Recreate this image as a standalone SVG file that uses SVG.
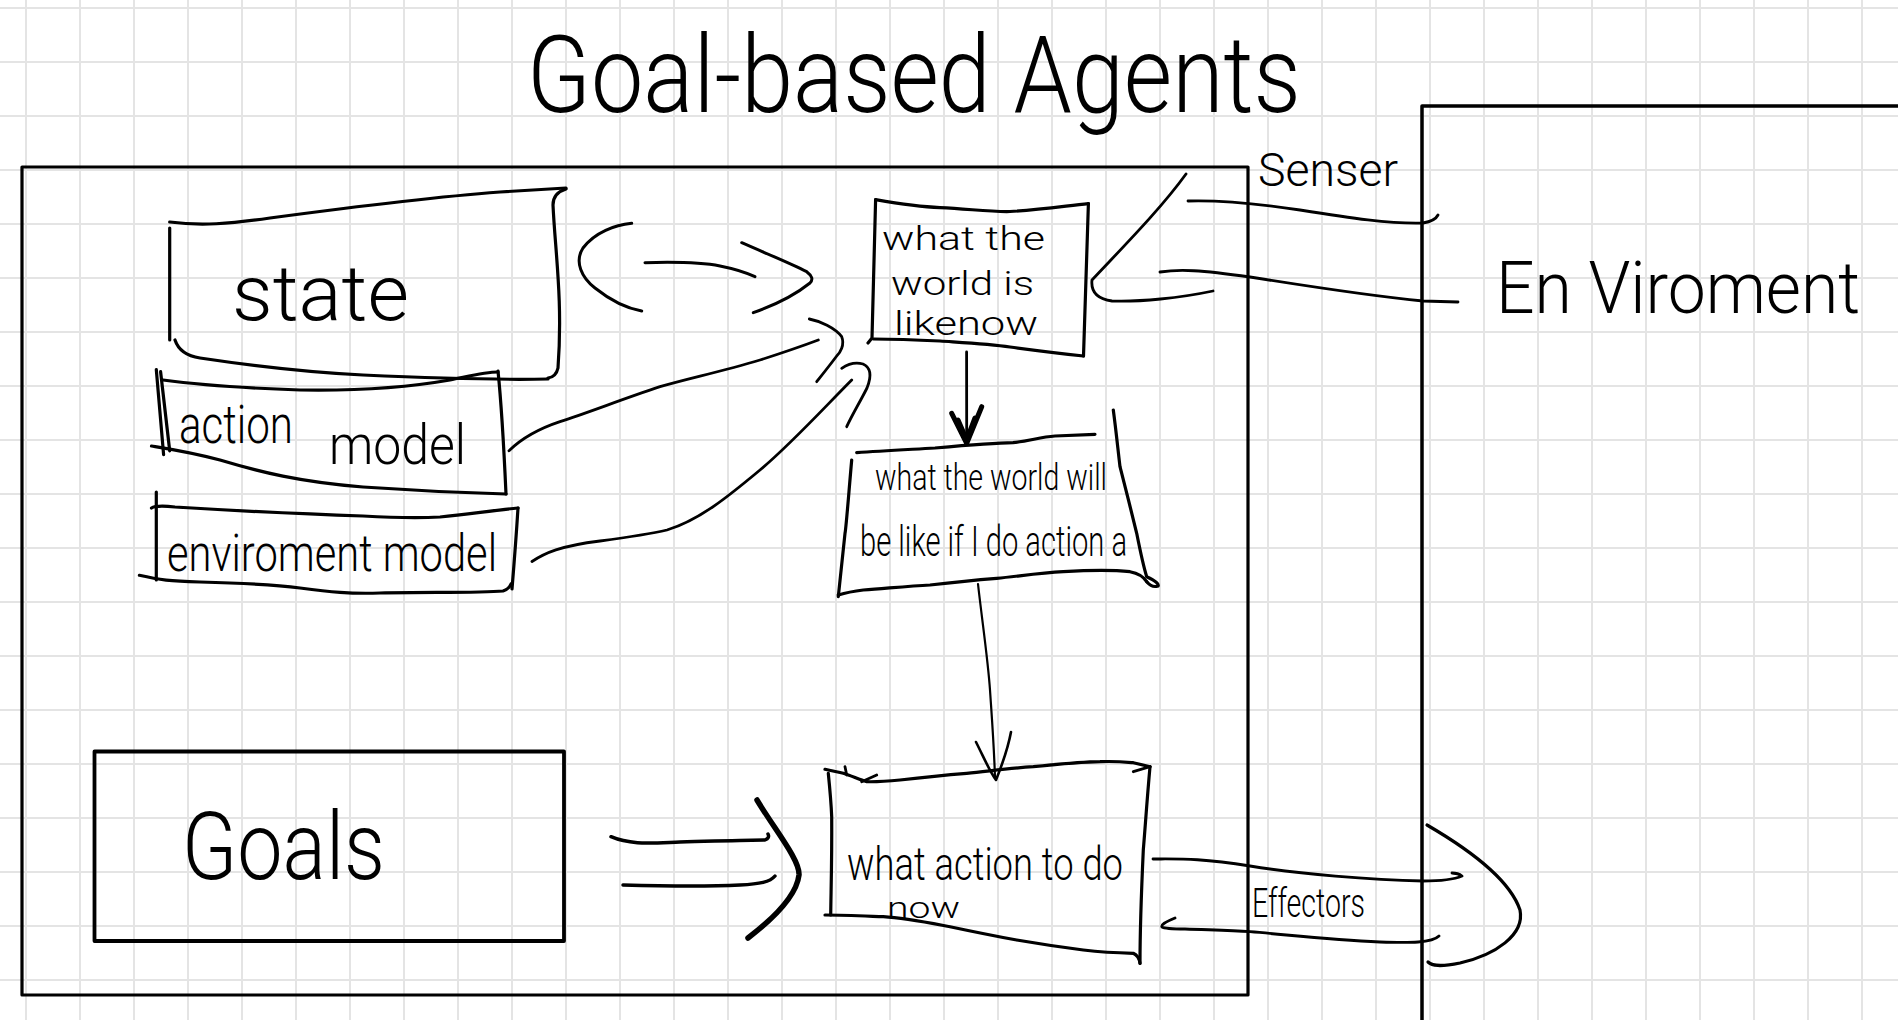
<svg xmlns="http://www.w3.org/2000/svg" width="1898" height="1020" viewBox="0 0 1898 1020">
<style>
.ink{fill:none;stroke:#000;stroke-linecap:round;stroke-linejoin:round}
.box{stroke-width:3.2}
.ln{stroke-width:2.8}
.hand{font-family:Roboto,Lato,"Liberation Sans",sans-serif;font-weight:300;fill:#000}
</style>
<defs>
<pattern id="grid" patternUnits="userSpaceOnUse" x="25" y="7" width="54" height="54">
<path d="M1 0V54M0 1H54" stroke="#e4e4e4" stroke-width="2" fill="none"/>
</pattern>
</defs>
<rect width="1898" height="1020" fill="#fff"/>
<rect width="1898" height="1020" fill="url(#grid)"/>

<g id="title">
<text class="hand" x="527" y="112" font-size="108" textLength="774" lengthAdjust="spacingAndGlyphs">Goal-based Agents</text>
</g>

<g id="agent">
<rect class="ink box" x="22" y="167" width="1226" height="828"/>
</g>

<g id="environment">
<path class="ink" stroke-width="3.5" d="M1422,1022V106H1900"/>
<text class="hand" x="1496" y="313" font-size="72" textLength="364" lengthAdjust="spacingAndGlyphs">En Viroment</text>
</g>

<g id="state">
<path class="ink box" d="M169.7,222 C200,226 230,224 270,218 C330,210 420,198 500,192 L566,188"/>
<path class="ink box" d="M566,189 Q553,193 553,205 C555,250 563,300 558,368 Q556,377 548,378"/>
<path class="ink box" d="M175,340 Q180,355 200,358 C240,364 300,372 363,375 C430,378 500,380 548,379"/>
<path class="ink box" d="M169.7,228 L169.7,340"/>
<text class="hand" x="232" y="320" font-size="78" textLength="177" lengthAdjust="spacingAndGlyphs">state</text>
</g>

<g id="action-model">
<path class="ink box" d="M156.3,369.7 L163.6,454.7 M160.6,371.7 L169.7,450.8"/>
<path class="ink box" d="M163,380 C200,385 240,388 300,390 C360,391 410,387 450,380 C470,376 485,372 498,372"/>
<path class="ink box" d="M498,371 C501,400 504,450 506,494"/>
<path class="ink box" d="M151.5,446 C170,449 190,452 220,460 C260,472 300,482 363,487 C420,491 470,493 506,494"/>
<text class="hand" x="179" y="443" font-size="54" textLength="114" lengthAdjust="spacingAndGlyphs">action</text>
<text class="hand" x="329" y="464" font-size="56" textLength="137" lengthAdjust="spacingAndGlyphs">model</text>
</g>

<g id="environment-model">
<path class="ink box" d="M151.5,508 Q156,505 175,507 C240,511 300,514 363,516 C400,518 420,518 440,517 C470,514 495,510 518,508"/>
<path class="ink box" d="M518,508 C516,540 514,565 512,589"/>
<path class="ink box" d="M139.4,575.3 C160,580 170,581 200,582 C240,583 270,584 300,588 C330,592 350,594 380,593 C430,592 480,593 503,591 Q509,589 511,584"/>
<path class="ink box" d="M156.3,492 L156.3,580"/>
<text class="hand" x="167" y="571" font-size="52" textLength="330" lengthAdjust="spacingAndGlyphs">enviroment model</text>
</g>

<g id="world-now">
<path class="ink box" d="M875.6,199.7 C900,204 920,207 940,207.6 C970,209 990,212 1010,211.5 C1040,210 1065,206 1088.4,203.6"/>
<path class="ink box" d="M875.6,199.7 L872,338 L868,343"/>
<path class="ink box" d="M873.5,339 C900,339 920,340 940,341 C970,343 990,344 1010,347 C1040,351 1065,354 1083.5,356"/>
<path class="ink box" d="M1088.4,203.6 L1083.5,356"/>
<text class="hand" x="882" y="250" font-size="34" textLength="163" lengthAdjust="spacingAndGlyphs">what the</text>
<text class="hand" x="891" y="295" font-size="34" textLength="143" lengthAdjust="spacingAndGlyphs">world is</text>
<text class="hand" x="894" y="335" font-size="34" textLength="144" lengthAdjust="spacingAndGlyphs">likenow</text>
</g>

<g id="world-future">
<path class="ink box" d="M856.7,452.7 C880,451 900,450 935,448 C970,445 995,443 1013,442.7 C1030,441 1040,437 1055,436 L1095,434.3"/>
<path class="ink box" d="M851.7,460 C849,490 846,530 845,533.3 C842,560 840,580 838.3,596.7"/>
<path class="ink box" d="M1113.3,410 C1116,430 1118,450 1120,466.7 C1126,490 1131,510 1136.7,533.3 C1140,550 1143,565 1146.7,576.7 Q1160,583 1158,586 Q1152,588 1147,582"/>
<path class="ink box" d="M838.3,595 C848,592 855,591 863.3,590 C890,588 910,586 930,585 C955,582 975,580 996.7,578.3 C1020,576 1040,573 1063.3,571.7 C1090,570 1115,570 1130,571.7 Q1142,574 1146.7,581.7"/>
<text class="hand" x="875" y="490" font-size="36" textLength="232" lengthAdjust="spacingAndGlyphs">what the world will</text>
<text class="hand" x="860" y="556" font-size="42" textLength="267" lengthAdjust="spacingAndGlyphs">be like if I do action a</text>
</g>

<g id="goals">
<rect class="ink" stroke-width="3.8" x="94.5" y="751.5" width="469.5" height="189.5"/>
<text class="hand" x="182" y="879" font-size="95" textLength="203" lengthAdjust="spacingAndGlyphs">Goals</text>
</g>

<g id="action">
<path class="ink box" d="M825,769.3 C832,771 838,772 843.3,773.3 C852,776 860,780 866.7,781.7 C880,782 890,781 900,780 C925,777 945,775 966.7,773.3 C990,771 1010,768 1033.3,766.7 C1060,764 1080,762 1100,761.7 C1115,761 1125,762 1133.3,762.7 L1150,766.7"/>
<path class="ink ln" d="M845,766.7 L846.7,775 M876.7,775 L861.7,781.7 M1133.3,771.7 L1150,766.7"/>
<path class="ink box" d="M828.3,773.3 C830,790 831,800 831.7,816.7 C832,860 831,890 830.7,915"/>
<path class="ink box" d="M825,915 C845,915 865,916 883.3,916.7 C905,918 930,923 950,926.7 C975,932 995,936 1016.7,940 C1040,944 1060,947 1083.3,950 C1100,952 1120,953 1133.3,953.3 Q1139,956 1140,963.3"/>
<path class="ink box" d="M1150,766.7 C1147,800 1145,830 1143.3,850 C1141,900 1140,940 1140,963.3"/>
<text class="hand" x="847" y="880" font-size="46" textLength="276" lengthAdjust="spacingAndGlyphs">what action to do</text>
<text class="hand" x="887" y="918" font-size="30" textLength="73" lengthAdjust="spacingAndGlyphs">now</text>
</g>

<g id="connectors">
<path class="ink" stroke-width="3" d="M631.7,223.3 C615,225 595,232 583,248 C574,262 582,278 595,288 C610,300 625,308 641.7,311"/>
<path class="ink" stroke-width="3" d="M645,262.7 C670,262 700,262 720,266 C735,269 745,272 755,276.7"/>
<path class="ink" stroke-width="3" d="M741.7,242.7 C765,253 790,263 806.7,271.7 Q815,278 810,283 C795,295 775,305 753.3,312.7"/>
<path class="ink ln" d="M509,450.8 C520,440 535,430 560,421.7 C590,412 620,400 660,386.7 C690,378 720,372 760,360 C785,352 805,345 818.3,340"/>
<path class="ink ln" d="M809.3,319 C820,321 835,328 841.7,336.7 C845,345 840,353 836.7,356 C830,365 822,375 816.7,381.7"/>
<path class="ink ln" d="M532,561.5 C545,553 560,546 600,541 C630,537 650,534 667,530 C700,520 730,495 760,470 C790,445 820,412 851.7,380"/>
<path class="ink ln" d="M841.7,368.3 C848,364 856,362 863,364 C872,368 871,378 867,388 C860,402 852,415 846.7,426.7"/>
<path class="ink ln" d="M966.6,352 L966.7,443"/>
<path class="ink" stroke-width="5" d="M951.7,413.3 L966.7,443.3 L981.7,406.7 M958,420 L966.7,440 L975,418"/>
<path class="ink" stroke-width="2.2" d="M978,584 C982,620 988,660 990,690 C992,720 994,745 995,778"/>
<path class="ink" stroke-width="2.6" d="M976,742 C985,760 990,772 996,780 C1002,765 1008,748 1011,732"/>
<path class="ink" stroke-width="3.5" d="M611,836.7 C630,845 650,843 680,842 C720,841 750,840 765,840 Q770,838 768,834"/>
<path class="ink" stroke-width="3.5" d="M623,885 C660,886 700,887 740,885 C760,884 770,882 775,876"/>
<path class="ink" stroke-width="5.5" d="M757,800 C775,830 800,860 799,875 C796,900 765,925 748,938"/>
<path class="ink ln" d="M1188,201 C1220,200 1260,204 1300,210 C1350,218 1390,224 1423,223 Q1435,221 1438,215"/>
<path class="ink ln" d="M1160,272 C1180,269 1200,270 1250,277 C1300,285 1370,296 1423,301 L1458,302"/>
<path class="ink ln" d="M1186,174 C1160,210 1120,250 1092,280 Q1090,298 1112,301 C1140,302 1180,298 1213,291"/>
<text class="hand" x="1258" y="186" font-size="46" textLength="140" lengthAdjust="spacingAndGlyphs">Senser</text>
<path class="ink ln" d="M1153,859 C1180,859 1200,858 1250,866 C1300,874 1370,880 1423,881 C1440,881 1455,879 1462,876 Q1458,873 1452,873"/>
<path class="ink ln" d="M1175,918 Q1160,924 1162,927 Q1165,929 1185,929 C1210,930 1230,930 1250,931.7 C1290,935 1330,940 1380,942 C1410,943 1432,943 1439,936"/>
<path class="ink" stroke-width="3.2" d="M1427,825 C1470,850 1510,880 1520,910 C1525,935 1495,955 1460,963 C1440,967 1432,966 1428,962"/>
<text class="hand" x="1252" y="917" font-size="40" textLength="113" lengthAdjust="spacingAndGlyphs">Effectors</text>
</g>
</svg>
